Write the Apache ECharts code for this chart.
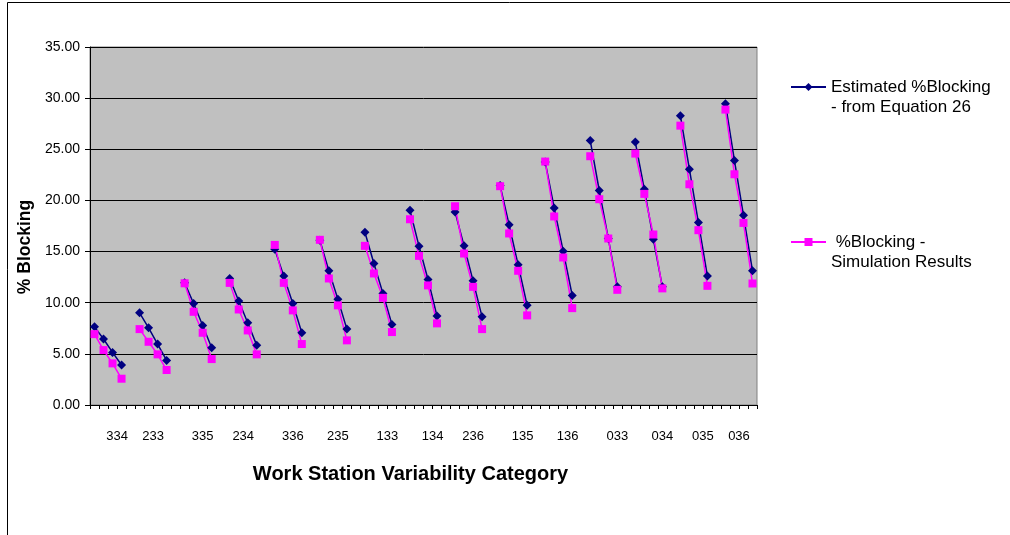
<!DOCTYPE html>
<html>
<head>
<meta charset="utf-8">
<script src="https://cdn.jsdelivr.net/npm/echarts@6/dist/echarts.min.js"></script>
<style>
html,body{margin:0;padding:0;background:#fff;}
#chart{width:1010px;height:535px;}
</style>
</head>
<body>
<div id="chart"></div>
<script>
// Values per group (4 points each)
const estimated = [
  [7.64, 6.45, 5.14, 3.91],
  [9.01, 7.55, 5.96, 4.36],
  [11.94, 9.93, 7.78, 5.60],
  [12.37, 10.16, 8.04, 5.83],
  [15.23, 12.60, 9.93, 7.06],
  [16.10, 13.12, 10.35, 7.42],
  [16.89, 13.84, 10.91, 7.88],
  [19.04, 15.53, 12.27, 8.69],
  [18.88, 15.56, 12.14, 8.62],
  [21.45, 17.61, 13.70, 9.74],
  [23.76, 19.27, 15.04, 10.71],
  [25.85, 20.97, 16.28, 11.55],
  [25.71, 21.09, 16.21, 11.55],
  [28.29, 23.05, 17.84, 12.60],
  [29.46, 23.90, 18.55, 13.12]
];
const simulation = [
  [6.93, 5.37, 4.07, 2.57],
  [7.42, 6.18, 4.95, 3.42],
  [11.90, 9.11, 7.06, 4.49],
  [11.94, 9.34, 7.29, 4.95],
  [15.65, 11.94, 9.25, 5.96],
  [16.15, 12.37, 9.74, 6.32],
  [15.56, 12.86, 10.48, 7.13],
  [18.16, 14.58, 11.69, 7.98],
  [19.43, 14.81, 11.55, 7.42],
  [21.39, 16.77, 13.12, 8.76],
  [23.80, 18.43, 14.42, 9.47],
  [24.32, 20.12, 16.28, 11.26],
  [24.58, 20.64, 16.67, 11.40],
  [27.31, 21.58, 17.09, 11.65],
  [28.88, 22.56, 17.80, 11.88]
];
// Tick labels and the (category-unit) positions where they appear
const tickLabels = ['334','233','335','234','336','235','133','134','236','135','136','033','034','035','036'];
const tickLabelPos = [3, 7, 12.5, 17, 22.5, 27.5, 33, 38, 42.5, 48, 53, 58.5, 63.5, 68, 72];
const yTicks = [0, 5, 10, 15, 20, 25, 30, 35];
const seriesNames = ['Estimated %Blocking\n- from Equation 26', ' %Blocking -\nSimulation Results'];

// Build category list: each group of 4 followed by an empty gap category (none after last)
function flatten(groups) {
  const out = [];
  groups.forEach((g, gi) => {
    g.forEach(v => out.push(v));
    if (gi < groups.length - 1) out.push(null);
  });
  return out;
}
const estData = flatten(estimated);
const simData = flatten(simulation);
const categories = estData.map((_, i) => 'C' + (i + 1));
const nCat = categories.length;

const FONT = '"Liberation Sans", Arial, sans-serif';
const labelMap = {};
tickLabelPos.forEach((p, i) => { labelMap[p.toFixed(1)] = tickLabels[i]; });

const chart = echarts.init(document.getElementById('chart'), null, {renderer: 'canvas'});
chart.setOption({
  animation: false,
  backgroundColor: '#ffffff',
  textStyle: {fontFamily: FONT},
  graphic: [{
    type: 'rect',
    shape: {x: 7.5, y: 2.5, width: 1100, height: 600},
    style: {fill: 'none', stroke: '#000', lineWidth: 1},
    silent: true,
    z: -10
  }],
  grid: {
    left: 90, right: 253, top: 47, bottom: 130,
    show: true, backgroundColor: '#C0C0C0', borderColor: '#808080', borderWidth: 1
  },
  legend: {
    orient: 'vertical',
    left: 790, top: 57,
    padding: 0,
    itemWidth: 35, itemHeight: 10,
    itemGap: 95,
    data: seriesNames,
    // leading blank line keeps the first text line level with the marker
    formatter: name => '\u00a0\n' + name,
    textStyle: {fontFamily: FONT, fontSize: 17, color: '#000', lineHeight: 20}
  },
  xAxis: [{
    type: 'category',
    data: categories,
    boundaryGap: true,
    axisLine: {lineStyle: {color: '#000', width: 1}},
    axisTick: {show: true, interval: 0, length: 4, lineStyle: {color: '#000'}},
    axisLabel: {show: false},
    splitLine: {show: false},
    name: 'Work Station Variability Category',
    nameLocation: 'middle',
    nameGap: 59,
    nameTextStyle: {fontFamily: FONT, fontSize: 20, fontWeight: 'bold', color: '#000', padding: [0, 26, 0, 0]}
  }, {
    type: 'value',
    position: 'bottom',
    min: 0, max: nCat, interval: 0.5,
    axisLine: {show: false},
    axisTick: {show: false},
    splitLine: {show: false},
    axisLabel: {
      show: true, margin: 25, fontSize: 13, color: '#000', fontFamily: FONT,
      showMinLabel: true, showMaxLabel: true,
      formatter: v => labelMap[Number(v).toFixed(1)] || ''
    }
  }],
  yAxis: {
    type: 'value',
    min: 0, max: 35, interval: 5,
    axisLine: {show: true, lineStyle: {color: '#000', width: 1}},
    axisTick: {show: true, length: 5, lineStyle: {color: '#000'}},
    axisLabel: {margin: 10, fontSize: 14, color: '#000', fontFamily: FONT,
      formatter: v => Number(v).toFixed(2)},
    splitLine: {show: true, lineStyle: {color: '#000', width: 1}},
    name: '% Blocking',
    nameLocation: 'middle',
    nameGap: 55,
    nameTextStyle: {fontFamily: FONT, fontSize: 17.5, fontWeight: 'bold', color: '#000', padding: [0, 42, 0, 0]}
  },
  series: [{
    name: seriesNames[0],
    type: 'line',
    xAxisIndex: 0,
    data: estData,
    connectNulls: false,
    showSymbol: true,
    showAllSymbol: true,
    symbol: 'diamond',
    symbolSize: 9,
    itemStyle: {color: '#000080'},
    lineStyle: {color: '#000080', width: 1.5}
  }, {
    name: seriesNames[1],
    type: 'line',
    xAxisIndex: 0,
    data: simData,
    connectNulls: false,
    showSymbol: true,
    showAllSymbol: true,
    symbol: 'rect',
    symbolSize: 8,
    itemStyle: {color: '#FF00FF'},
    lineStyle: {color: '#FF00FF', width: 1.5}
  }]
});
</script>
</body>
</html>
